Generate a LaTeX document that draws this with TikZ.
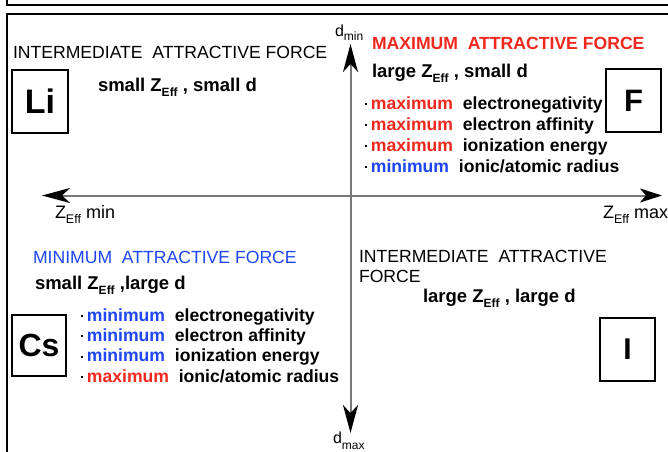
\documentclass[tikz,border=0pt]{standalone}
\usepackage{fontspec}
\setmainfont{Liberation Sans}
\usetikzlibrary{arrows.meta}
\definecolor{hired}{RGB}{240,40,30}
\definecolor{hiblue}{RGB}{30,70,245}
\definecolor{axisgray}{RGB}{120,120,120}
\newcommand{\zeffsub}[1]{Z\raisebox{-0.32em}{\fontsize{#1}{#1}\selectfont Eff}}
\tikzset{
  every node/.style={inner sep=0pt, outer sep=0pt},
  titletxt/.style={anchor=base west, font=\fontsize{17.6}{18}\selectfont},
  subtxt/.style={anchor=base west, font=\fontsize{18.5}{20}\selectfont\bfseries},
  bullettxt/.style={anchor=base west, font=\fontsize{17.6}{18}\selectfont\bfseries},
  axtxt/.style={anchor=base west, font=\fontsize{18}{18}\selectfont},
  elembox/.style={draw, line width=1.7pt, font=\fontsize{32}{34}\selectfont\bfseries},
  axisline/.style={draw=axisgray, line width=2pt, -{Stealth[length=28pt,width=15pt,inset=8pt,fill=black,color=black]}},
  frameline/.style={line width=2pt, black}
}
\newcommand{\mx}{\textcolor{hired}{maximum}}
\newcommand{\mn}{\textcolor{hiblue}{minimum}}
\newcommand{\bdot}{\raisebox{0.2em}{\rule{2.4pt}{2.4pt}}\hspace{3.5pt}}
\begin{document}
\begin{tikzpicture}[x=1pt,y=-1pt]
\useasboundingbox (0,0) rectangle (668,451);
\fill[white] (0,0) rectangle (668,451);
% frames
\draw[frameline] (7,-2) -- (7,5) -- (670,5);
\draw[frameline] (670,13.5) -- (7,13.5) -- (7,453);
% axes
\coordinate (xl) at (42,195.5);
\coordinate (xr) at (662,195.5);
\coordinate (yt) at (350.5,44);
\coordinate (yb) at (350.5,433);
\coordinate (o) at (350.5,195.5);
\draw[axisline] (o) -- (xl);
\draw[axisline,-{Stealth[length=22pt,width=14pt,inset=6pt,fill=black,color=black]}] (o) -- (xr);
\draw[axisline] (o) -- (yt);
\draw[axisline] (o) -- (yb);
% axis labels
\node[axtxt, font=\fontsize{16}{16}\selectfont] (dmin) at (335,36) {d\raisebox{-0.3em}{\fontsize{12}{12}\selectfont min}};
\node[axtxt, font=\fontsize{16}{16}\selectfont] (dmax) at (333,443) {d\raisebox{-0.4em}{\fontsize{12}{12}\selectfont max}};
\node[axtxt] (zmin) at (55,218) {\zeffsub{12.5} min};
\node[axtxt] (zmax) at (603,218) {\zeffsub{12.5} max};
% top-left
\node[titletxt] (tl) at (13,58) {INTERMEDIATE\ \ ATTRACTIVE FORCE};
\node[subtxt] (tlsub) at (98,91) {small \zeffsub{12} , small d};
\node[elembox, minimum width=56pt, minimum height=63pt, font=\fontsize{34}{34}\selectfont\bfseries] (li) at (40,101.5) {Li};
% top-right
\node[titletxt, font=\fontsize{17.6}{18}\selectfont\bfseries, text=hired] (tr) at (372,49) {MAXIMUM\ \ ATTRACTIVE FORCE};
\node[subtxt] (trsub) at (372,77) {large \zeffsub{12} , small d};
\node[bullettxt] (tr1) at (365,109) {\bdot\mx\ \ electronegativity};
\node[bullettxt] (tr2) at (365,130) {\bdot\mx\ \ electron affinity};
\node[bullettxt] (tr3) at (365,151) {\bdot\mx\ \ ionization energy};
\node[bullettxt] (tr4) at (365,172) {\bdot\mn\ \ ionic/atomic radius};
\node[elembox, minimum width=55pt, minimum height=63pt, font=\fontsize{31}{31}\selectfont\bfseries] (f) at (633.5,100.5) {F};
% bottom-left
\node[titletxt, text=hiblue] (bl) at (33,263) {MINIMUM\ \ ATTRACTIVE FORCE};
\node[subtxt] (blsub) at (35,289) {small \zeffsub{12} ,large d};
\node[bullettxt] (bl1) at (81,321) {\bdot\mn\ \ electronegativity};
\node[bullettxt] (bl2) at (81,341) {\bdot\mn\ \ electron affinity};
\node[bullettxt] (bl3) at (81,361.5) {\bdot\mn\ \ ionization energy};
\node[bullettxt] (bl4) at (81,382) {\bdot\mx\ \ ionic/atomic radius};
\node[elembox, minimum width=54pt, minimum height=61pt] (cs) at (39,345.5) {Cs};
% bottom-right
\node[titletxt] (br1) at (359,262) {INTERMEDIATE\ \ ATTRACTIVE};
\node[titletxt] (br2) at (359,282) {FORCE};
\node[subtxt] (brsub) at (423,302) {large \zeffsub{12} , large d};
\node[elembox, minimum width=55pt, minimum height=63pt, font=\fontsize{30}{30}\selectfont\bfseries] (iel) at (627.5,349.5) {I};
\end{tikzpicture}
\end{document}
